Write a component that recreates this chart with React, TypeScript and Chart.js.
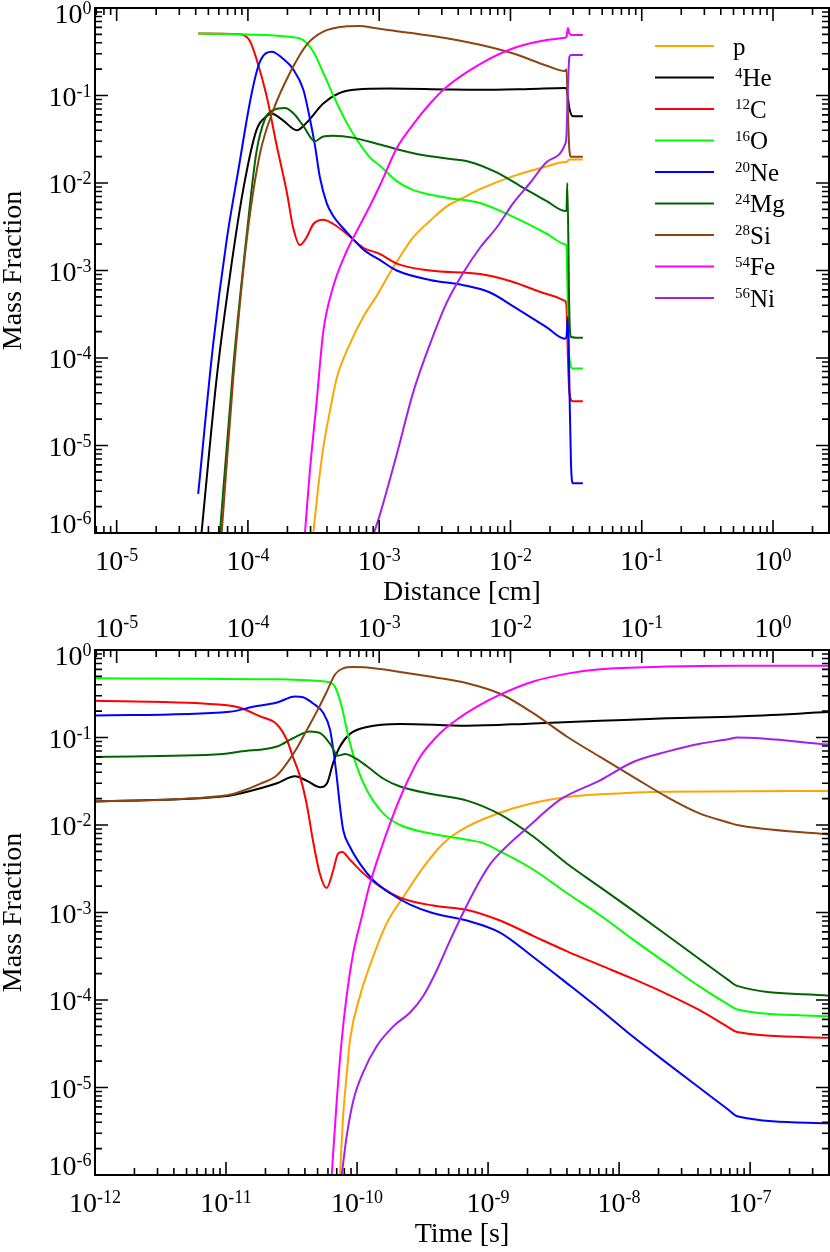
import React, { useEffect, useRef } from "react";
import { Chart, registerables } from "chart.js";

Chart.register(...registerables);

type P = [number, number];

// ---------- legend / species ----------
const SPECIES = ["p", "He", "C", "O", "Ne", "Mg", "Si", "Fe", "Ni"];
const MASS = ["", "4", "12", "16", "20", "24", "28", "54", "56"];
const COLORS = ["#FFA500", "#000000", "#FF0000", "#00FF00", "#0000FF", "#006400", "#8B4513", "#FF00FF", "#A020F0"];

// ---------- axis ranges & ticks ----------
const DIST_MIN = 6.84e-6;
const DIST_MAX = 2.67;
const TIME_MIN = 1e-12;
const TIME_MAX = 4.0e-7;
const Y_MIN = 1e-6;
const Y_MAX = 1;

const Y_TICKS = [1e-6, 1e-5, 1e-4, 1e-3, 1e-2, 1e-1, 1];
const Y_TICK_EXP = ["-6", "-5", "-4", "-3", "-2", "-1", "0"];
const DIST_TICKS = [1e-5, 1e-4, 1e-3, 1e-2, 1e-1, 1];
const DIST_TICK_EXP = ["-5", "-4", "-3", "-2", "-1", "0"];
const TIME_TICKS = [1e-12, 1e-11, 1e-10, 1e-9, 1e-8, 1e-7];
const TIME_TICK_EXP = ["-12", "-11", "-10", "-9", "-8", "-7"];
const MINOR_STEPS = [2, 3, 4, 5, 6, 7, 8, 9];

// ---------- top panel: mass fraction vs distance [cm] ----------
const pDist: P[] = [[3.15e-4, 1e-6], [3.42e-4, 3.2e-6], [3.75e-4, 9.5e-6], [4.22e-4, 2.5e-5], [4.75e-4, 5.9e-5], [5.98e-4, 1.45e-4], [7.56e-4, 2.95e-4], [9.55e-4, 5.1e-4], [1.21e-3, 9.5e-4], [1.36e-3, 1.26e-3], [1.82e-3, 2.4e-3], [2.44e-3, 3.7e-3], [3.27e-3, 5.4e-3], [4.38e-3, 6.8e-3], [5.86e-3, 8.5e-3], [1.05e-2, 1.2e-2], [1.89e-2, 1.55e-2], [2.6e-2, 1.74e-2], [2.67e-2, 1.74e-2], [2.81e-2, 1.86e-2], [3.56e-2, 1.86e-2]];
const heDist: P[] = [[4.43e-5, 1e-6], [5.78e-5, 5.9e-5], [7.29e-5, 8.7e-4], [9.22e-5, 8.5e-3], [1.16e-4, 0.04], [1.35e-4, 0.056], [1.52e-4, 0.062], [1.85e-4, 0.052], [2.36e-4, 0.04], [2.8e-4, 0.049], [3.75e-4, 0.081], [5.02e-4, 0.107], [6.73e-4, 0.117], [1.21e-3, 0.12], [3.27e-3, 0.117], [5.86e-3, 0.116], [1.41e-2, 0.119], [2.6e-2, 0.122], [2.67e-2, 0.12], [2.81e-2, 0.071], [2.99e-2, 0.058], [3.56e-2, 0.058]];
const cDist: P[] = [[4.18e-5, 0.51], [8.69e-5, 0.5], [1.035e-4, 0.42], [1.16e-4, 0.263], [1.39e-4, 0.098], [1.65e-4, 0.0275], [1.98e-4, 7.8e-3], [2.21e-4, 3.1e-3], [2.49e-4, 1.95e-3], [2.8e-4, 2.4e-3], [3.15e-4, 3.4e-3], [3.75e-4, 3.8e-3], [4.47e-4, 3.4e-3], [5.65e-4, 2.63e-3], [7.56e-4, 1.82e-3], [1.01e-3, 1.55e-3], [1.36e-3, 1.2e-3], [2.44e-3, 1.0e-3], [5.86e-3, 9.1e-4], [1.05e-2, 7.4e-4], [1.89e-2, 5.4e-4], [2.6e-2, 4.5e-4], [2.67e-2, 4.0e-4], [2.74e-2, 1e-4], [2.81e-2, 4e-5], [2.99e-2, 3.2e-5], [3.56e-2, 3.2e-5]];
const oDist: P[] = [[4.18e-5, 0.51], [8.69e-5, 0.5], [2.09e-4, 0.468], [2.64e-4, 0.43], [3.15e-4, 0.316], [3.75e-4, 0.182], [4.47e-4, 0.1], [5.65e-4, 0.049], [6.73e-4, 0.0316], [8.51e-4, 0.0195], [1.01e-3, 0.0158], [1.36e-3, 0.0105], [1.82e-3, 8.3e-3], [3.27e-3, 6.8e-3], [5.86e-3, 5.9e-3], [1.05e-2, 4.1e-3], [1.89e-2, 2.63e-3], [2.6e-2, 2.0e-3], [2.67e-2, 1.9e-3], [2.74e-2, 3.2e-4], [2.81e-2, 1.0e-4], [2.99e-2, 7.6e-5], [3.56e-2, 7.6e-5]];
const neDist: P[] = [[4.18e-5, 2.8e-6], [5.44e-5, 1.45e-4], [6.88e-5, 2.2e-3], [8.45e-5, 0.014], [1.06e-4, 0.1], [1.23e-4, 0.24], [1.52e-4, 0.316], [1.85e-4, 0.263], [2.21e-4, 0.2], [2.64e-4, 0.117], [2.96e-4, 0.055], [3.24e-4, 0.0269], [3.53e-4, 0.0117], [3.98e-4, 5.9e-3], [4.47e-4, 4.2e-3], [5.65e-4, 2.75e-3], [7.56e-4, 1.74e-3], [1.01e-3, 1.32e-3], [1.36e-3, 1.0e-3], [2.44e-3, 7.8e-4], [4.38e-3, 6.8e-4], [6.98e-3, 5.6e-4], [1.05e-2, 3.9e-4], [1.89e-2, 2.24e-4], [2.6e-2, 1.66e-4], [2.67e-2, 1.74e-4], [2.74e-2, 2.95e-4], [2.81e-2, 5e-5], [2.89e-2, 6.3e-6], [2.99e-2, 3.7e-6], [3.56e-2, 3.7e-6]];
const mgDist: P[] = [[6.12e-5, 1e-6], [7.73e-5, 7.9e-5], [9.77e-5, 2.5e-3], [1.16e-4, 0.0224], [1.35e-4, 0.054], [1.56e-4, 0.068], [1.92e-4, 0.072], [2.21e-4, 0.063], [2.64e-4, 0.045], [3.24e-4, 0.03], [3.75e-4, 0.034], [4.47e-4, 0.0347], [6.31e-4, 0.033], [1.01e-3, 0.0275], [1.82e-3, 0.0219], [3.27e-3, 0.019], [4.91e-3, 0.0174], [7.85e-3, 0.0132], [1.18e-2, 9.3e-3], [1.89e-2, 6.2e-3], [2.6e-2, 4.8e-3], [2.67e-2, 4.8e-3], [2.71e-2, 0.01], [2.81e-2, 3.2e-4], [2.89e-2, 1.74e-4], [3.56e-2, 1.7e-4]];
const siDist: P[] = [[6.31e-5, 1e-6], [7.73e-5, 5.9e-5], [9.77e-5, 2.2e-3], [1.23e-4, 0.021], [1.56e-4, 0.068], [2.09e-4, 0.182], [2.8e-4, 0.38], [3.75e-4, 0.537], [5.65e-4, 0.617], [7.13e-4, 0.624], [8.95e-4, 0.596], [1.21e-3, 0.556], [1.82e-3, 0.513], [3.27e-3, 0.452], [5.86e-3, 0.38], [1.05e-2, 0.302], [1.89e-2, 0.219], [2.6e-2, 0.19], [2.67e-2, 0.2], [2.74e-2, 0.063], [2.81e-2, 0.024], [2.89e-2, 0.02], [3.56e-2, 0.02]];
const feDist: P[] = [[2.72e-4, 1e-6], [2.96e-4, 5e-6], [3.34e-4, 3.2e-5], [3.75e-4, 2.0e-4], [4.47e-4, 6.6e-4], [5.65e-4, 1.66e-3], [6.73e-4, 2.8e-3], [8.51e-4, 5.5e-3], [1.01e-3, 9.3e-3], [1.36e-3, 0.025], [1.82e-3, 0.047], [2.44e-3, 0.081], [3.27e-3, 0.126], [5.86e-3, 0.229], [1.05e-2, 0.347], [1.89e-2, 0.431], [2.6e-2, 0.457], [2.67e-2, 0.468], [2.74e-2, 0.59], [2.81e-2, 0.51], [2.99e-2, 0.49], [3.56e-2, 0.49]];
const niDist: P[] = [[9.12e-4, 1e-6], [1.01e-3, 1.6e-6], [1.36e-3, 7.9e-6], [1.82e-3, 4.1e-5], [2.44e-3, 1.45e-4], [3.27e-3, 4.3e-4], [4.38e-3, 9.5e-4], [5.86e-3, 1.82e-3], [7.85e-3, 3.1e-3], [1.05e-2, 5.9e-3], [1.41e-2, 0.01], [1.89e-2, 0.0174], [2.6e-2, 0.0275], [2.67e-2, 0.035], [2.74e-2, 0.126], [2.81e-2, 0.275], [2.89e-2, 0.29], [3.56e-2, 0.29]];

// ---------- bottom panel: mass fraction vs time [s] ----------
const pTime: P[] = [[7.41e-11, 1e-6], [7.85e-11, 5.0e-6], [8.34e-11, 1.41e-5], [8.84e-11, 3.5e-5], [1.054e-10, 1.12e-4], [1.256e-10, 2.5e-4], [1.69e-10, 7.6e-4], [2.26e-10, 1.51e-3], [3.21e-10, 3.3e-3], [4.56e-10, 6.2e-3], [6.88e-10, 9.5e-3], [1.235e-9, 0.0138], [2.21e-9, 0.0178], [4.01e-9, 0.0209], [7.16e-9, 0.0224], [2.32e-8, 0.024], [4.0e-7, 0.0245]];
const heTime: P[] = [[1e-12, 0.0186], [1.02e-11, 0.0214], [1.28e-11, 0.0229], [2.45e-11, 0.03], [3.36e-11, 0.036], [4.15e-11, 0.032], [5.23e-11, 0.027], [5.9e-11, 0.03], [6.59e-11, 0.052], [7.41e-11, 0.079], [8.84e-11, 0.11], [1.19e-10, 0.132], [2.13e-10, 0.143], [6.91e-10, 0.136], [2.21e-9, 0.145], [7.16e-9, 0.155], [2.32e-8, 0.166], [7.96e-8, 0.174], [4.0e-7, 0.195]];
const cTime: P[] = [[1e-12, 0.263], [1.02e-11, 0.234], [1.28e-11, 0.219], [1.82e-11, 0.174], [2.45e-11, 0.141], [2.92e-11, 0.093], [3.24e-11, 0.06], [3.68e-11, 0.0355], [4.15e-11, 0.0166], [4.61e-11, 6.6e-3], [5.23e-11, 2.7e-3], [5.85e-11, 1.9e-3], [6.56e-11, 3.0e-3], [7.16e-11, 4.7e-3], [7.68e-11, 4.9e-3], [8.84e-11, 4.0e-3], [1.117e-10, 2.8e-3], [1.42e-10, 2.1e-3], [2.13e-10, 1.48e-3], [3.8e-10, 1.2e-3], [6.91e-10, 1.07e-3], [1.235e-9, 8.1e-4], [2.21e-9, 5.4e-4], [4.01e-9, 3.6e-4], [7.16e-9, 2.5e-4], [1.28e-8, 1.74e-4], [2.32e-8, 1.17e-4], [4.15e-8, 7.6e-5], [6.79e-8, 4.9e-5], [7.96e-8, 4.3e-5], [4.0e-7, 3.7e-5]];
const oTime: P[] = [[1e-12, 0.474], [6.34e-12, 0.468], [2.58e-11, 0.462], [3.68e-11, 0.454], [5.23e-11, 0.442], [6.22e-11, 0.427], [6.79e-11, 0.38], [7.64e-11, 0.224], [8.59e-11, 0.102], [9.95e-11, 0.0468], [1.186e-10, 0.0251], [1.59e-10, 0.0135], [2.13e-10, 0.01], [3.8e-10, 7.9e-3], [6.91e-10, 6.8e-3], [9.16e-10, 6.2e-3], [1.235e-9, 5.0e-3], [2.21e-9, 3.1e-3], [4.01e-9, 1.66e-3], [7.16e-9, 9.3e-4], [1.28e-8, 4.9e-4], [2.32e-8, 2.6e-4], [4.15e-8, 1.41e-4], [6.79e-8, 8.9e-5], [7.96e-8, 7.8e-5], [4.0e-7, 6.5e-5]];
const neTime: P[] = [[1e-12, 0.178], [1.07e-11, 0.197], [1.61e-11, 0.224], [2.45e-11, 0.251], [3.36e-11, 0.295], [3.87e-11, 0.288], [4.62e-11, 0.245], [5.53e-11, 0.19], [6.22e-11, 0.123], [6.59e-11, 0.072], [7.0e-11, 0.0355], [7.41e-11, 0.0162], [7.85e-11, 8.7e-3], [8.84e-11, 5.6e-3], [1.054e-10, 3.6e-3], [1.33e-10, 2.34e-3], [1.79e-10, 1.66e-3], [2.54e-10, 1.23e-3], [3.82e-10, 9.8e-4], [6.88e-10, 8.1e-4], [1.235e-9, 5.9e-4], [2.21e-9, 3.1e-4], [4.01e-9, 1.55e-4], [7.16e-9, 7.8e-5], [1.28e-8, 3.8e-5], [2.32e-8, 1.9e-5], [4.15e-8, 9.8e-6], [6.79e-8, 5.6e-6], [7.96e-8, 4.7e-6], [4.0e-7, 3.9e-6]];
const mgTime: P[] = [[1e-12, 0.06], [9.48e-12, 0.0646], [1.28e-11, 0.069], [2.45e-11, 0.079], [3.24e-11, 0.098], [4.38e-11, 0.117], [5.23e-11, 0.112], [6.22e-11, 0.085], [7.16e-11, 0.062], [8.09e-11, 0.0646], [9.31e-11, 0.06], [1.19e-10, 0.047], [1.58e-10, 0.034], [2.13e-10, 0.0275], [3.8e-10, 0.0224], [6.91e-10, 0.019], [1.235e-9, 0.0132], [2.21e-9, 7.4e-3], [4.01e-9, 3.6e-3], [7.16e-9, 1.95e-3], [1.28e-8, 1.05e-3], [2.32e-8, 5.5e-4], [4.15e-8, 2.9e-4], [6.79e-8, 1.7e-4], [7.96e-8, 1.45e-4], [4.0e-7, 1.12e-4]];
const siTime: P[] = [[1e-12, 0.0186], [1.02e-11, 0.0219], [1.28e-11, 0.024], [1.82e-11, 0.0295], [2.45e-11, 0.037], [2.92e-11, 0.051], [3.48e-11, 0.076], [4.15e-11, 0.123], [4.95e-11, 0.2], [5.9e-11, 0.339], [6.79e-11, 0.525], [7.81e-11, 0.617], [9.31e-11, 0.638], [1.19e-10, 0.631], [2.13e-10, 0.562], [3.8e-10, 0.49], [6.91e-10, 0.417], [1.235e-9, 0.316], [2.21e-9, 0.19], [4.01e-9, 0.102], [7.16e-9, 0.06], [1.28e-8, 0.0355], [2.32e-8, 0.0209], [4.15e-8, 0.0135], [6.79e-8, 0.0107], [7.96e-8, 0.01], [4.0e-7, 7.8e-3]];
const feTime: P[] = [[6.41e-11, 1e-6], [7.0e-11, 7.1e-6], [7.64e-11, 3.5e-5], [8.34e-11, 1.12e-4], [9.37e-11, 3.5e-4], [1.086e-10, 8.9e-4], [1.256e-10, 2.14e-3], [1.79e-10, 0.0105], [2.26e-10, 0.0251], [3.03e-10, 0.06], [4.3e-10, 0.112], [6.11e-10, 0.17], [8.69e-10, 0.236], [1.235e-9, 0.309], [2.21e-9, 0.437], [4.01e-9, 0.537], [7.16e-9, 0.603], [2.32e-8, 0.646], [7.96e-8, 0.661], [4.0e-7, 0.661]];
const niTime: P[] = [[7.64e-11, 1e-6], [8.34e-11, 2.8e-6], [9.37e-11, 7.1e-6], [1.117e-10, 1.51e-5], [1.42e-10, 3.0e-5], [1.89e-10, 5.0e-5], [2.54e-10, 7.2e-5], [3.21e-10, 1.12e-4], [4.06e-10, 2.19e-4], [5.13e-10, 4.8e-4], [6.47e-10, 1.0e-3], [8.2e-10, 2.0e-3], [1.035e-9, 3.55e-3], [1.31e-9, 5.25e-3], [1.99e-9, 9.3e-3], [3.55e-9, 0.0195], [7.16e-9, 0.0324], [1.28e-8, 0.0525], [2.32e-8, 0.069], [4.15e-8, 0.085], [6.79e-8, 0.0955], [7.96e-8, 0.1], [4.0e-7, 0.083]];

const DIST_SERIES = [pDist, heDist, cDist, oDist, neDist, mgDist, siDist, feDist, niDist];
const TIME_SERIES = [pTime, heTime, cTime, oTime, neTime, mgTime, siTime, feTime, niTime];

const FONT = '"Liberation Serif", "Times New Roman", Times, serif';

function drawPow(ctx: CanvasRenderingContext2D, exp: string, x: number, base: number, align: "center" | "right") {
  ctx.font = `28px ${FONT}`;
  const w1 = ctx.measureText("10").width;
  ctx.font = `18px ${FONT}`;
  const w2 = ctx.measureText(exp).width;
  const total = w1 + w2;
  const x0 = align === "center" ? x - total / 2 : x - total;
  ctx.textAlign = "left";
  ctx.textBaseline = "alphabetic";
  ctx.font = `28px ${FONT}`;
  ctx.fillText("10", x0, base);
  ctx.font = `18px ${FONT}`;
  ctx.fillText(exp, x0 + w1, base - 9);
}

function tickValues(majors: number[], min: number, max: number) {
  const out: { v: number; major: boolean }[] = [];
  const decades = [majors[0] / 10, ...majors];
  for (const d of decades) {
    if (d >= min * 0.9999 && d <= max * 1.0001) out.push({ v: d, major: true });
    for (const m of MINOR_STEPS) {
      const v = d * m;
      if (v >= min * 0.9999 && v <= max * 1.0001) out.push({ v, major: false });
    }
  }
  return out;
}

interface PanelOpts {
  bottomTicks: number[];
  bottomExp: string[];
  topTicks: number[];
  topExp: string[] | null;
  topScaleId: string;
  xTitle: string;
  legend: boolean;
}

function framePlugin(o: PanelOpts) {
  return {
    id: "idlFrame",
    afterDraw(chart: any) {
      const ctx: CanvasRenderingContext2D = chart.ctx;
      const a = chart.chartArea;
      const xs = chart.scales.x;
      const ys = chart.scales.y;
      const xt = chart.scales[o.topScaleId];
      const MAJ = 13;
      const MIN = 7;
      ctx.save();
      ctx.strokeStyle = "#000";
      ctx.fillStyle = "#000";
      // ticks
      ctx.lineWidth = 1.6;
      ctx.beginPath();
      for (const t of tickValues(Y_TICKS, ys.min, ys.max)) {
        const py = ys.getPixelForValue(t.v);
        const L = t.major ? MAJ : MIN;
        ctx.moveTo(a.left, py); ctx.lineTo(a.left + L, py);
        ctx.moveTo(a.right, py); ctx.lineTo(a.right - L, py);
      }
      for (const t of tickValues(o.bottomTicks, xs.min, xs.max)) {
        const px = xs.getPixelForValue(t.v);
        const L = t.major ? MAJ : MIN;
        ctx.moveTo(px, a.bottom); ctx.lineTo(px, a.bottom - L);
      }
      for (const t of tickValues(o.topTicks, xt.min, xt.max)) {
        const px = xt.getPixelForValue(t.v);
        const L = t.major ? MAJ : MIN;
        ctx.moveTo(px, a.top); ctx.lineTo(px, a.top + L);
      }
      ctx.stroke();
      // frame
      ctx.lineWidth = 2;
      ctx.strokeRect(a.left, a.top, a.right - a.left, a.bottom - a.top);

      // y labels
      Y_TICKS.forEach((v, i) => {
        const py = ys.getPixelForValue(v);
        let base = py + 10;
        if (base - 19 < a.top - 4) base = a.top + 15;
        if (base > a.bottom) base = a.bottom;
        drawPow(ctx, Y_TICK_EXP[i], a.left - 3.5, base, "right");
      });
      // bottom x labels
      o.bottomTicks.forEach((v, i) => {
        const px = xs.getPixelForValue(v);
        drawPow(ctx, o.bottomExp[i], px, a.bottom + 36.5, "center");
      });
      // top x labels
      if (o.topExp) {
        o.topTicks.forEach((v, i) => {
          const px = xt.getPixelForValue(v);
          drawPow(ctx, (o.topExp as string[])[i], px, a.top - 13, "center");
        });
      }
      // titles
      ctx.font = `28px ${FONT}`;
      ctx.textAlign = "center";
      ctx.textBaseline = "alphabetic";
      ctx.fillText(o.xTitle, (a.left + a.right) / 2, a.bottom + 67);
      ctx.save();
      ctx.translate(21, (a.top + a.bottom) / 2);
      ctx.rotate(-Math.PI / 2);
      ctx.fillText("Mass Fraction", 0, 0);
      ctx.restore();

      // legend
      if (o.legend) {
        SPECIES.forEach((s, i) => {
          const y = 46 + i * 31.5;
          ctx.strokeStyle = COLORS[i];
          ctx.lineWidth = 2;
          ctx.beginPath();
          ctx.moveTo(655, y);
          ctx.lineTo(714, y);
          ctx.stroke();
          ctx.fillStyle = "#000";
          ctx.textAlign = "left";
          let x = 735;
          if (MASS[i]) {
            ctx.font = `15px ${FONT}`;
            ctx.fillText(MASS[i], x, y + 0);
            x += ctx.measureText(MASS[i]).width;
          } else {
            x = 733;
          }
          ctx.font = `25px ${FONT}`;
          ctx.fillText(s, x, y + 8.5);
        });
      }
      ctx.restore();
    },
  };
}

function makeChart(canvas: HTMLCanvasElement, series: P[][], xMin: number, xMax: number, padding: any, o: PanelOpts) {
  const scales: any = {
    x: { type: "logarithmic", min: xMin, max: xMax, display: false },
    y: { type: "logarithmic", min: Y_MIN, max: Y_MAX, display: false },
  };
  if (o.topScaleId !== "x") {
    scales[o.topScaleId] = { type: "logarithmic", axis: "x", position: "top", min: DIST_MIN, max: DIST_MAX, display: false };
  }
  return new Chart(canvas, {
    type: "line",
    data: {
      datasets: series.map((pts, i) => ({
        label: SPECIES[i],
        data: pts.map(([x, y]) => ({ x, y })),
        borderColor: COLORS[i],
        backgroundColor: COLORS[i],
        borderWidth: 2,
        pointRadius: 0,
        fill: false,
        cubicInterpolationMode: "monotone",
        order: SPECIES.length - i,
      })),
    } as any,
    options: {
      responsive: false,
      animation: false,
      devicePixelRatio: 1,
      events: [],
      layout: { padding },
      scales,
      plugins: { legend: { display: false }, tooltip: { enabled: false } },
    } as any,
    plugins: [framePlugin(o)],
  });
}

export default function App() {
  const topRef = useRef<HTMLCanvasElement>(null);
  const botRef = useRef<HTMLCanvasElement>(null);

  useEffect(() => {
    const c1 = makeChart(topRef.current as HTMLCanvasElement, DIST_SERIES, DIST_MIN, DIST_MAX,
      { left: 95, right: 1, top: 8, bottom: 77 },
      { bottomTicks: DIST_TICKS, bottomExp: DIST_TICK_EXP, topTicks: DIST_TICKS, topExp: null, topScaleId: "x", xTitle: "Distance [cm]", legend: true });
    const c2 = makeChart(botRef.current as HTMLCanvasElement, TIME_SERIES, TIME_MIN, TIME_MAX,
      { left: 95, right: 1, top: 40, bottom: 77 },
      { bottomTicks: TIME_TICKS, bottomExp: TIME_TICK_EXP, topTicks: DIST_TICKS, topExp: DIST_TICK_EXP, topScaleId: "xd", xTitle: "Time [s]", legend: false });
    return () => {
      c1.destroy();
      c2.destroy();
    };
  }, []);

  return (
    <div style={{ position: "absolute", left: 0, top: 0, width: 830, height: 1252, background: "#fff" }}>
      <canvas ref={topRef} width={830} height={610} style={{ position: "absolute", left: 0, top: 0, display: "block" }} />
      <canvas ref={botRef} width={830} height={642} style={{ position: "absolute", left: 0, top: 610, display: "block" }} />
    </div>
  );
}
